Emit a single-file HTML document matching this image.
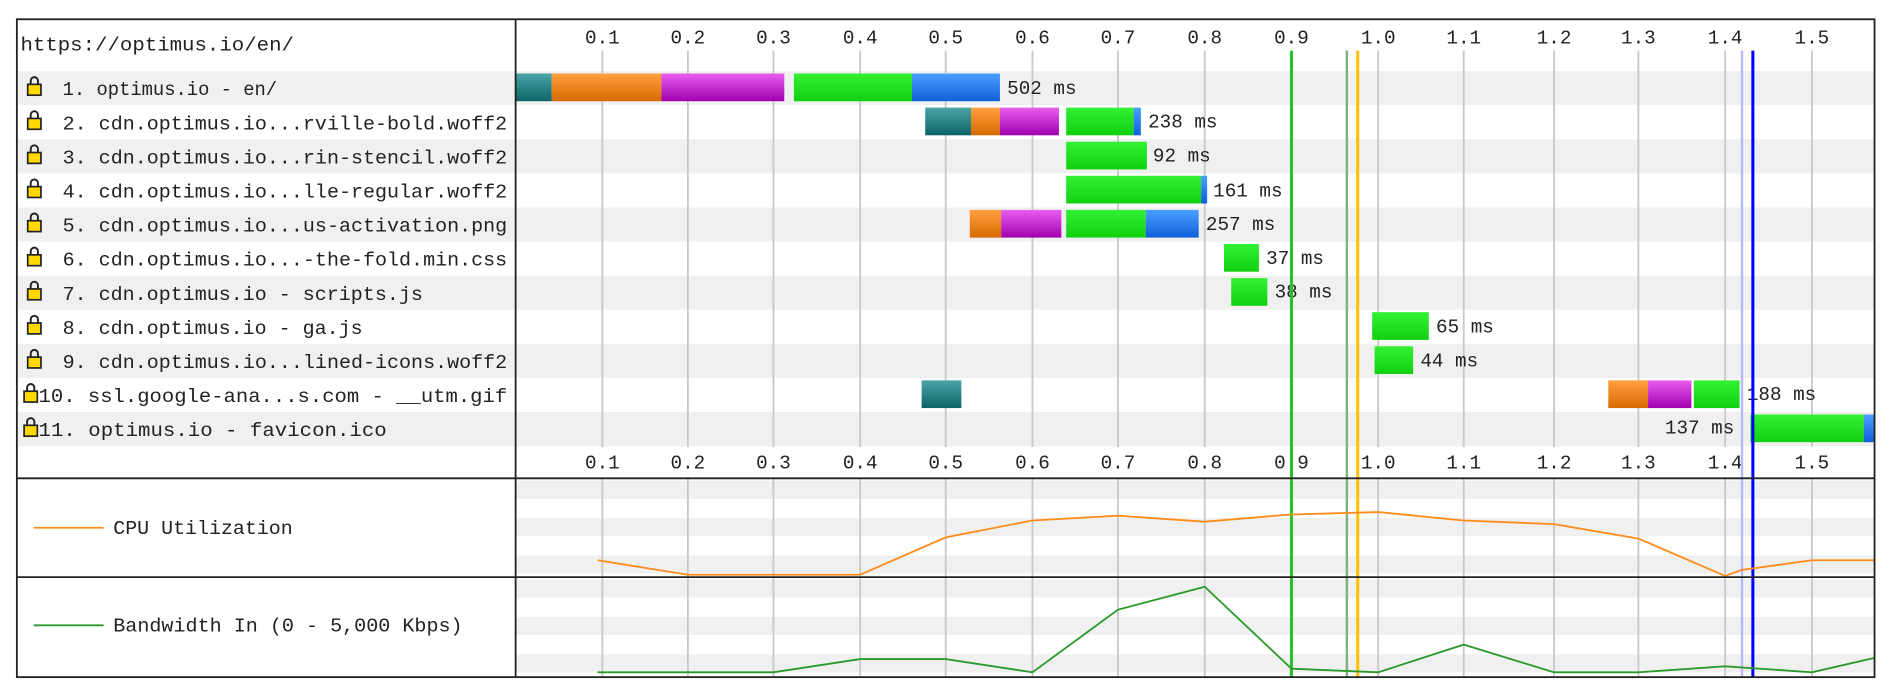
<!DOCTYPE html>
<html><head><meta charset="utf-8"><style>
html,body{margin:0;padding:0;background:#fff;}
svg{display:block;}
text{font-family:"Liberation Mono","DejaVu Sans Mono",monospace;fill:#222;}
</style></head><body>
<svg width="1889" height="694" viewBox="0 0 1568 576" preserveAspectRatio="none" xmlns="http://www.w3.org/2000/svg">
<defs>
<linearGradient id="gt" x1="0" y1="0" x2="0" y2="1"><stop offset="0" stop-color="#4aa5a8"/><stop offset="1" stop-color="#0d6366"/></linearGradient>
<linearGradient id="go" x1="0" y1="0" x2="0" y2="1"><stop offset="0" stop-color="#ffa040"/><stop offset="1" stop-color="#d86a00"/></linearGradient>
<linearGradient id="gm" x1="0" y1="0" x2="0" y2="1"><stop offset="0" stop-color="#e85ef0"/><stop offset="1" stop-color="#a100ae"/></linearGradient>
<linearGradient id="gg" x1="0" y1="0" x2="0" y2="1"><stop offset="0" stop-color="#33f033"/><stop offset="1" stop-color="#10d010"/></linearGradient>
<linearGradient id="gb" x1="0" y1="0" x2="0" y2="1"><stop offset="0" stop-color="#4aa0ff"/><stop offset="1" stop-color="#1060d8"/></linearGradient>
<g id="lock"><path d="M3.5,7 V4 a3,3 0 0 1 6,0 V7" fill="none" stroke="#222" stroke-width="1.6"/><rect x="1" y="7" width="11" height="9" fill="#ffd800" stroke="#222" stroke-width="1.4"/></g>
</defs>
<g fill="#f0f0f0">
<rect x="14" y="59" width="1542" height="28.3"/>
<rect x="14" y="115.6" width="1542" height="28.3"/>
<rect x="14" y="172.2" width="1542" height="28.3"/>
<rect x="14" y="228.8" width="1542" height="28.3"/>
<rect x="14" y="285.4" width="1542" height="28.3"/>
<rect x="14" y="342" width="1542" height="28.3"/>
<rect x="428" y="399" width="1128" height="15"/>
<rect x="428" y="430" width="1128" height="15"/>
<rect x="428" y="461" width="1128" height="15"/>
<rect x="428" y="481" width="1128" height="15"/>
<rect x="428" y="512" width="1128" height="15"/>
<rect x="428" y="543" width="1128" height="15"/>
</g>
<g stroke="#c8c8c8" stroke-width="1.5">
<line x1="500" y1="42" x2="500" y2="371"/><line x1="571" y1="42" x2="571" y2="371"/><line x1="642" y1="42" x2="642" y2="371"/><line x1="714" y1="42" x2="714" y2="371"/><line x1="785" y1="42" x2="785" y2="371"/><line x1="857" y1="42" x2="857" y2="371"/><line x1="928" y1="42" x2="928" y2="371"/><line x1="1000" y1="42" x2="1000" y2="371"/><line x1="1072" y1="42" x2="1072" y2="371"/><line x1="1144" y1="42" x2="1144" y2="371"/><line x1="1215" y1="42" x2="1215" y2="371"/><line x1="1290" y1="42" x2="1290" y2="371"/><line x1="1360" y1="42" x2="1360" y2="371"/><line x1="1432" y1="42" x2="1432" y2="371"/><line x1="1504" y1="42" x2="1504" y2="371"/>
<line x1="500" y1="397" x2="500" y2="562"/><line x1="571" y1="397" x2="571" y2="562"/><line x1="642" y1="397" x2="642" y2="562"/><line x1="714" y1="397" x2="714" y2="562"/><line x1="785" y1="397" x2="785" y2="562"/><line x1="857" y1="397" x2="857" y2="562"/><line x1="928" y1="397" x2="928" y2="562"/><line x1="1000" y1="397" x2="1000" y2="562"/><line x1="1072" y1="397" x2="1072" y2="562"/><line x1="1144" y1="397" x2="1144" y2="562"/><line x1="1215" y1="397" x2="1215" y2="562"/><line x1="1290" y1="397" x2="1290" y2="562"/><line x1="1360" y1="397" x2="1360" y2="562"/><line x1="1432" y1="397" x2="1432" y2="562"/><line x1="1504" y1="397" x2="1504" y2="562"/>
</g>
<g font-size="16" text-anchor="middle">
<text x="500" y="36">0.1</text><text x="571" y="36">0.2</text><text x="642" y="36">0.3</text><text x="714" y="36">0.4</text><text x="785" y="36">0.5</text><text x="857" y="36">0.6</text><text x="928" y="36">0.7</text><text x="1000" y="36">0.8</text><text x="1072" y="36">0.9</text><text x="1144" y="36">1.0</text><text x="1215" y="36">1.1</text><text x="1290" y="36">1.2</text><text x="1360" y="36">1.3</text><text x="1432" y="36">1.4</text><text x="1504" y="36">1.5</text>
<text x="500" y="389">0.1</text><text x="571" y="389">0.2</text><text x="642" y="389">0.3</text><text x="714" y="389">0.4</text><text x="785" y="389">0.5</text><text x="857" y="389">0.6</text><text x="928" y="389">0.7</text><text x="1000" y="389">0.8</text><text x="1072" y="389">0.9</text><text x="1144" y="389">1.0</text><text x="1215" y="389">1.1</text><text x="1290" y="389">1.2</text><text x="1360" y="389">1.3</text><text x="1432" y="389">1.4</text><text x="1504" y="389">1.5</text>
</g>
<g>
<rect x="428" y="61" width="30" height="23" fill="url(#gt)"/><rect x="458" y="61" width="91" height="23" fill="url(#go)"/><rect x="549" y="61" width="102" height="23" fill="url(#gm)"/><rect x="659" y="61" width="98" height="23" fill="url(#gg)"/><rect x="757" y="61" width="73" height="23" fill="url(#gb)"/>
<rect x="768" y="89.3" width="38" height="23" fill="url(#gt)"/><rect x="806" y="89.3" width="24" height="23" fill="url(#go)"/><rect x="830" y="89.3" width="49" height="23" fill="url(#gm)"/><rect x="885" y="89.3" width="56" height="23" fill="url(#gg)"/><rect x="941" y="89.3" width="6" height="23" fill="url(#gb)"/>
<rect x="885" y="117.6" width="67" height="23" fill="url(#gg)"/>
<rect x="885" y="145.9" width="112" height="23" fill="url(#gg)"/><rect x="997" y="145.9" width="5" height="23" fill="url(#gb)"/>
<rect x="805" y="174.2" width="26" height="23" fill="url(#go)"/><rect x="831" y="174.2" width="50" height="23" fill="url(#gm)"/><rect x="885" y="174.2" width="66" height="23" fill="url(#gg)"/><rect x="951" y="174.2" width="44" height="23" fill="url(#gb)"/>
<rect x="1016" y="202.5" width="29" height="23" fill="url(#gg)"/>
<rect x="1022" y="230.8" width="30" height="23" fill="url(#gg)"/>
<rect x="1139" y="259.1" width="47" height="23" fill="url(#gg)"/>
<rect x="1141" y="287.4" width="32" height="23" fill="url(#gg)"/>
<rect x="765" y="315.7" width="33" height="23" fill="url(#gt)"/><rect x="1335" y="315.7" width="33" height="23" fill="url(#go)"/><rect x="1368" y="315.7" width="36" height="23" fill="url(#gm)"/><rect x="1406" y="315.7" width="38" height="23" fill="url(#gg)"/>
<rect x="1453" y="344" width="94" height="23" fill="url(#gg)"/><rect x="1547" y="344" width="9" height="23" fill="url(#gb)"/>
</g>
<g font-size="16">
<text x="836" y="78">502 ms</text><text x="953" y="106">238 ms</text><text x="957" y="134">92 ms</text><text x="1007" y="163">161 ms</text><text x="1001" y="191">257 ms</text><text x="1051" y="219">37 ms</text><text x="1058" y="247">38 ms</text><text x="1192" y="276">65 ms</text><text x="1179" y="304">44 ms</text><text x="1450" y="332">188 ms</text><text x="1382" y="360">137 ms</text>
</g>
<line x1="1072" y1="42" x2="1072" y2="562" stroke="#28c028" stroke-width="2.5"/>
<line x1="1118" y1="42" x2="1118" y2="562" stroke="#80b080" stroke-width="2"/>
<line x1="1127" y1="42" x2="1127" y2="562" stroke="#ffc000" stroke-width="2.5"/>
<line x1="1446" y1="42" x2="1446" y2="562" stroke="#b8b8ff" stroke-width="2"/>
<line x1="1455" y1="42" x2="1455" y2="562" stroke="#0000ff" stroke-width="2.5"/>
<polyline fill="none" stroke="#ff8c1a" stroke-width="1.5" points="496,465 571,477 714,477 785,446 857,432 928,428 1000,433 1072,427 1144,425 1215,432 1290,435 1360,447 1432,478 1446,473 1504,465 1556,465"/>
<polyline fill="none" stroke="#2a9a2a" stroke-width="1.5" points="496,558 642,558 714,547 785,547 857,558 928,506 1000,487 1072,555 1144,558 1215,535 1290,558 1360,558 1432,553 1504,558 1556,546"/>
<text x="17" y="42" font-size="16" textLength="227" lengthAdjust="spacingAndGlyphs">https://optimus.io/en/</text>
<g font-size="16">
<use href="#lock" x="22" y="63"/><text x="52" y="79" textLength="178" lengthAdjust="spacingAndGlyphs">1. optimus.io - en/</text>
<use href="#lock" x="22" y="91.3"/><text x="52" y="107.3" textLength="369" lengthAdjust="spacingAndGlyphs">2. cdn.optimus.io...rville-bold.woff2</text>
<use href="#lock" x="22" y="119.6"/><text x="52" y="135.6" textLength="369" lengthAdjust="spacingAndGlyphs">3. cdn.optimus.io...rin-stencil.woff2</text>
<use href="#lock" x="22" y="147.9"/><text x="52" y="163.9" textLength="369" lengthAdjust="spacingAndGlyphs">4. cdn.optimus.io...lle-regular.woff2</text>
<use href="#lock" x="22" y="176.2"/><text x="52" y="192.2" textLength="369" lengthAdjust="spacingAndGlyphs">5. cdn.optimus.io...us-activation.png</text>
<use href="#lock" x="22" y="204.5"/><text x="52" y="220.5" textLength="369" lengthAdjust="spacingAndGlyphs">6. cdn.optimus.io...-the-fold.min.css</text>
<use href="#lock" x="22" y="232.8"/><text x="52" y="248.8" textLength="299" lengthAdjust="spacingAndGlyphs">7. cdn.optimus.io - scripts.js</text>
<use href="#lock" x="22" y="261.1"/><text x="52" y="277.1" textLength="249" lengthAdjust="spacingAndGlyphs">8. cdn.optimus.io - ga.js</text>
<use href="#lock" x="22" y="289.4"/><text x="52" y="305.4" textLength="369" lengthAdjust="spacingAndGlyphs">9. cdn.optimus.io...lined-icons.woff2</text>
<use href="#lock" x="19" y="317.7"/><text x="32" y="333.7" textLength="389" lengthAdjust="spacingAndGlyphs">10. ssl.google-ana...s.com - __utm.gif</text>
<use href="#lock" x="19" y="346"/><text x="32" y="362" textLength="289" lengthAdjust="spacingAndGlyphs">11. optimus.io - favicon.ico</text>
</g>
<line x1="28" y1="438" x2="86" y2="438" stroke="#ff8c1a" stroke-width="1.5"/>
<text x="94" y="443" font-size="16" textLength="149" lengthAdjust="spacingAndGlyphs">CPU Utilization</text>
<line x1="28" y1="519" x2="86" y2="519" stroke="#2a9a2a" stroke-width="1.5"/>
<text x="94" y="524" font-size="16" textLength="290" lengthAdjust="spacingAndGlyphs">Bandwidth In (0 - 5,000 Kbps)</text>
<g stroke="#222" stroke-width="1.5" fill="none">
<rect x="14" y="16" width="1542" height="546"/>
<line x1="428" y1="16" x2="428" y2="562"/>
<line x1="14" y1="397" x2="1556" y2="397"/>
<line x1="14" y1="479" x2="1556" y2="479"/>
</g>
</svg>
</body></html>
